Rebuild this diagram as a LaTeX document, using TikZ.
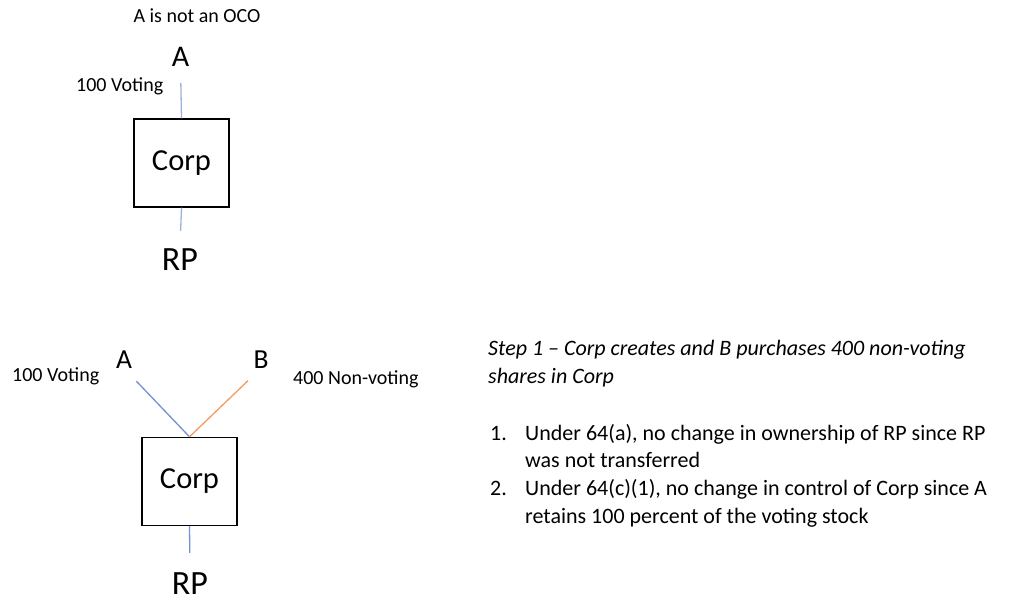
\documentclass[tikz,border=0pt]{standalone}
\usepackage{fontspec}
\setmainfont{Carlito}
\definecolor{linkblue}{HTML}{7392D2}
\definecolor{linkpale}{HTML}{9DB1DE}
\definecolor{linkorange}{HTML}{F09C62}
\tikzset{
  big/.style={inner sep=0pt, font=\fontsize{30}{36}\selectfont},
  mid/.style={inner sep=0pt, font=\fontsize{27.5}{33}\selectfont},
  huge/.style={inner sep=0pt, font=\fontsize{34}{40}\selectfont},
  small/.style={inner sep=0pt, font=\fontsize{20}{24}\selectfont},
  body/.style={inner sep=0pt, font=\fontsize{22}{27}\selectfont},
  corpbox/.style={draw=black, line width=1.4pt, minimum width=95pt, minimum height=88pt, inner sep=0pt, font=\fontsize{30.5}{36}\selectfont},
  link/.style={line width=1.3pt}
}
\begin{document}
\begin{tikzpicture}[x=1pt, y=-1pt]
\useasboundingbox (0,0) rectangle (1029,597);

% --- before: A holds all the stock of Corp
\node[small, anchor=base] (oco) at (197,23) {A is not an OCO};
\node[big, anchor=base] (a1) at (180.5,66) {A};
\node[small, anchor=base west] (v1) at (76,91) {100 Voting};
\node[corpbox] (corp1) at (181.5,163) {Corp};
\node[huge, anchor=base] (rp1) at (180,270) {RP};
\draw[link, linkpale, shorten <=17pt] (a1.south) -- (corp1.north);
\draw[link, linkpale, shorten >=17pt] (corp1.south) -- (rp1.north);

% --- step 1: B buys non-voting shares
\node[mid, anchor=base] (a2) at (124,368) {A};
\node[mid, anchor=base] (b2) at (261,368) {B};
\node[small, anchor=base west] (v2) at (12,381) {100 Voting};
\node[small, anchor=base west] (nv2) at (293,384) {400 Non-voting};
\node[corpbox] (corp2) at (189.5,481.5) {Corp};
\node[huge, anchor=base] (rp2) at (190,594) {RP};
\draw[link, linkblue, shorten <=18pt] (a2.south) -- (corp2.north);
\draw[link, linkorange, shorten <=18pt] (b2.south) -- (corp2.north);
\draw[link, linkblue, shorten >=19pt] (corp2.south) -- (rp2.north);

% --- explanation
\node[body, anchor=base west, font=\fontsize{22}{27}\selectfont\itshape] (step) at (488,355)
  {Step 1 -- Corp creates and B purchases 400 non-voting};
\node[body, anchor=base west, font=\fontsize{22}{27}\selectfont\itshape] (stepb) at (488,383)
  {shares in Corp};
\node[body, anchor=base west] (n1) at (490,440) {1.};
\node[body, anchor=base west] (t1) at (525,440) {Under 64(a), no change in ownership of RP since RP};
\node[body, anchor=base west] (t1b) at (525,467) {was not transferred};
\node[body, anchor=base west] (n2) at (490,495) {2.};
\node[body, anchor=base west] (t2) at (525,495) {Under 64(c)(1), no change in control of Corp since A};
\node[body, anchor=base west] (t2b) at (525,523) {retains 100 percent of the voting stock};
\end{tikzpicture}
\end{document}
